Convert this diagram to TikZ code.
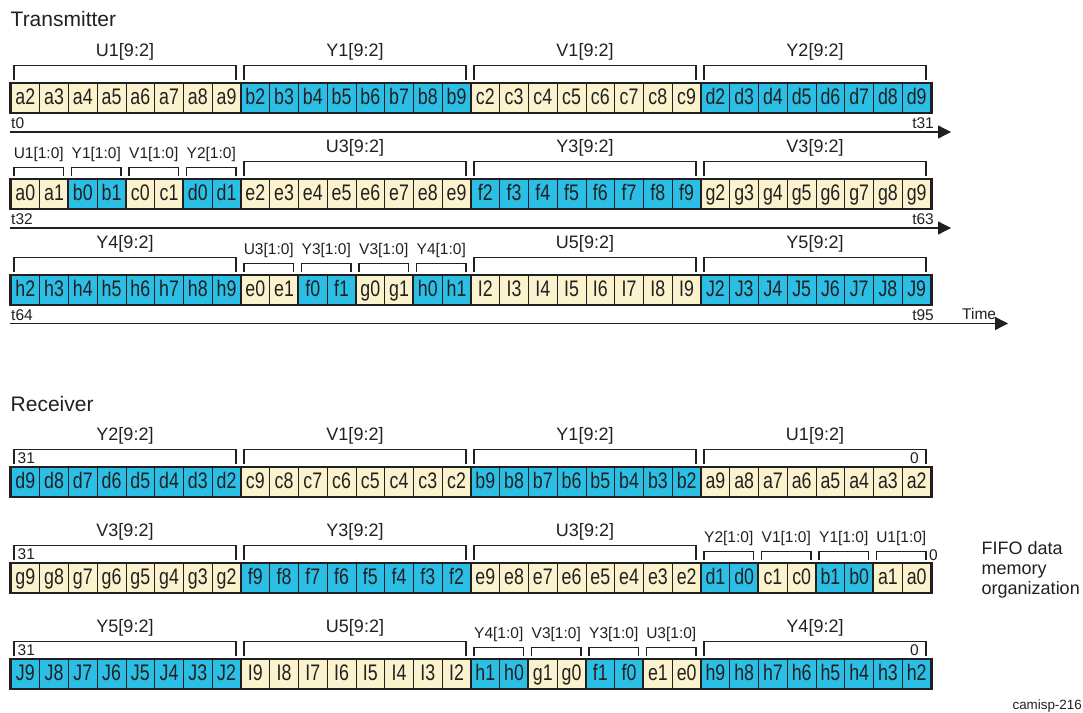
\documentclass[tikz,border=0pt]{standalone}
\usepackage{fontspec}
\setmainfont{Liberation Sans}
\newfontfamily\cellfont[FakeStretch=0.79]{Liberation Sans}
\usetikzlibrary{arrows.meta}
\definecolor{cr}{HTML}{FAF3CD}
\definecolor{bl}{HTML}{2BBFE6}
\definecolor{ink}{HTML}{231F20}
\tikzset{
 cell/.style={draw=ink, line width=0.8pt, minimum width=28.75pt, minimum height=29pt, inner sep=0pt,
   text height=16.5pt, text depth=3pt, font=\cellfont\fontsize{22.5}{22.5}\selectfont, text=ink},
 outer/.style={draw=ink, line width=2.6pt},
 gbound/.style={draw=ink, line width=1.8pt},
 brk/.style={draw=ink, line width=1.1pt},
 biglab/.style={anchor=base, font=\fontsize{18}{18}\selectfont, text=ink, inner sep=0pt},
 smlab/.style={anchor=base, font=\fontsize{15.5}{15.5}\selectfont, text=ink, inner sep=0pt},
 tlab/.style={font=\fontsize{15.5}{15.5}\selectfont, text=ink, inner sep=0pt},
 ttl/.style={anchor=base west, font=\fontsize{21}{21}\selectfont, text=ink, inner sep=0pt},
 tarrow/.style={draw=ink, line width=1.3pt, -{Triangle[length=13pt,width=13pt]}},
}
% #1 row, #2 centre y, #3 first column, #4 letter, #5 digits, #6 colour
\newcommand\grp[6]{%
 \foreach [count=\k from 0] \d in {#5} {
   \pgfmathtruncatemacro\cc{#3+\k}
   \node[cell, fill=#6] (#1-\cc) at ({11+(\cc-0.5)*28.75}, #2) {#4\d};
 }}
% #1 first col, #2 last col, #3 cell top, #4 node name, #5 label
\newcommand\bigbrk[5]{%
 \draw[brk] ({11+(#1-1)*28.75+3},{#3-4}) -- ({11+(#1-1)*28.75+3},{#3-18})
   -- ({11+#2*28.75-5},{#3-18}) -- ({11+#2*28.75-5},{#3-4});
 \node[biglab] (#4) at ({(11+(#1-1)*28.75+3 + 11+#2*28.75-5)/2},{#3-27}) {#5};}
\newcommand\smbrk[5]{%
 \draw[brk] ({11+(#1-1)*28.75+3},{#3-4}) -- ({11+(#1-1)*28.75+3},{#3-12})
   -- ({11+#2*28.75-5},{#3-12}) -- ({11+#2*28.75-5},{#3-4});
 \node[smlab] (#4) at ({(11+(#1-1)*28.75+3 + 11+#2*28.75-5)/2},{#3-21}) {#5};}
\newcommand\rowbox[2]{%
 \draw[outer] (#1-1.north west) rectangle (#1-32.south east);
 \foreach \b in {#2} \draw[gbound] (#1-\b.north west) -- (#1-\b.south west);}
\begin{document}
\begin{tikzpicture}[x=1pt,y=-1pt]
\useasboundingbox (0,0) rectangle (1083,712);
% ---------------- Transmitter
\node[ttl] (tx) at (10.5,26) {Transmitter};
% row 1
\grp{r1}{98}{1}{a}{2,...,9}{cr}
\grp{r1}{98}{9}{b}{2,...,9}{bl}
\grp{r1}{98}{17}{c}{2,...,9}{cr}
\grp{r1}{98}{25}{d}{2,...,9}{bl}
\rowbox{r1}{9,17,25}
\bigbrk{1}{8}{83.5}{l11}{U1[9:2]}
\bigbrk{9}{16}{83.5}{l12}{Y1[9:2]}
\bigbrk{17}{24}{83.5}{l13}{V1[9:2]}
\bigbrk{25}{32}{83.5}{l14}{Y2[9:2]}
\node[tlab, anchor=base west] (t0) at (11,128.5) {t0};
\node[tlab, anchor=base east] (t31) at (934,128.5) {t31};
\coordinate (a1s) at (10,132);
\coordinate (a1e) at (951,132);
\draw[tarrow] (a1s) -- (a1e);
% row 2
\grp{r2}{194}{1}{a}{0,1}{cr}
\grp{r2}{194}{3}{b}{0,1}{bl}
\grp{r2}{194}{5}{c}{0,1}{cr}
\grp{r2}{194}{7}{d}{0,1}{bl}
\grp{r2}{194}{9}{e}{2,...,9}{cr}
\grp{r2}{194}{17}{f}{2,...,9}{bl}
\grp{r2}{194}{25}{g}{2,...,9}{cr}
\rowbox{r2}{3,5,7,9,17,25}
\smbrk{1}{2}{179.5}{l21}{U1[1:0]}
\smbrk{3}{4}{179.5}{l22}{Y1[1:0]}
\smbrk{5}{6}{179.5}{l23}{V1[1:0]}
\smbrk{7}{8}{179.5}{l24}{Y2[1:0]}
\bigbrk{9}{16}{179.5}{l25}{U3[9:2]}
\bigbrk{17}{24}{179.5}{l26}{Y3[9:2]}
\bigbrk{25}{32}{179.5}{l27}{V3[9:2]}
\node[tlab, anchor=base west] (t32) at (11,224.5) {t32};
\node[tlab, anchor=base east] (t63) at (934,224.5) {t63};
\coordinate (a2s) at (10,228);
\coordinate (a2e) at (951,228);
\draw[tarrow] (a2s) -- (a2e);
% row 3
\grp{r3}{290}{1}{h}{2,...,9}{bl}
\grp{r3}{290}{9}{e}{0,1}{cr}
\grp{r3}{290}{11}{f}{0,1}{bl}
\grp{r3}{290}{13}{g}{0,1}{cr}
\grp{r3}{290}{15}{h}{0,1}{bl}
\grp{r3}{290}{17}{I}{2,...,9}{cr}
\grp{r3}{290}{25}{J}{2,...,9}{bl}
\rowbox{r3}{9,11,13,15,17,25}
\bigbrk{1}{8}{275.5}{l31}{Y4[9:2]}
\smbrk{9}{10}{275.5}{l32}{U3[1:0]}
\smbrk{11}{12}{275.5}{l33}{Y3[1:0]}
\smbrk{13}{14}{275.5}{l34}{V3[1:0]}
\smbrk{15}{16}{275.5}{l35}{Y4[1:0]}
\bigbrk{17}{24}{275.5}{l36}{U5[9:2]}
\bigbrk{25}{32}{275.5}{l37}{Y5[9:2]}
\node[tlab, anchor=base west] (t64) at (11,320) {t64};
\node[tlab, anchor=base east] (t95) at (934,320) {t95};
\node[tlab, anchor=base west] (time) at (962,319) {Time};
\coordinate (a3s) at (10,323.5);
\coordinate (a3e) at (1008,323.5);
\draw[tarrow] (a3s) -- (a3e);
% ---------------- Receiver
\node[ttl] (rx) at (10.5,411.5) {Receiver};
% row 4
\grp{r4}{482}{1}{d}{9,8,...,2}{bl}
\grp{r4}{482}{9}{c}{9,8,...,2}{cr}
\grp{r4}{482}{17}{b}{9,8,...,2}{bl}
\grp{r4}{482}{25}{a}{9,8,...,2}{cr}
\rowbox{r4}{9,17,25}
\bigbrk{1}{8}{467.5}{l41}{Y2[9:2]}
\bigbrk{9}{16}{467.5}{l42}{V1[9:2]}
\bigbrk{17}{24}{467.5}{l43}{Y1[9:2]}
\bigbrk{25}{32}{467.5}{l44}{U1[9:2]}
\node[tlab, anchor=base west] (m4a) at (17.5,463.5) {31};
\node[tlab, anchor=base east] (m4b) at (919,463.5) {0};
% row 5
\grp{r5}{578}{1}{g}{9,8,...,2}{cr}
\grp{r5}{578}{9}{f}{9,8,...,2}{bl}
\grp{r5}{578}{17}{e}{9,8,...,2}{cr}
\grp{r5}{578}{25}{d}{1,0}{bl}
\grp{r5}{578}{27}{c}{1,0}{cr}
\grp{r5}{578}{29}{b}{1,0}{bl}
\grp{r5}{578}{31}{a}{1,0}{cr}
\rowbox{r5}{9,17,25,27,29,31}
\bigbrk{1}{8}{563.5}{l51}{V3[9:2]}
\bigbrk{9}{16}{563.5}{l52}{Y3[9:2]}
\bigbrk{17}{24}{563.5}{l53}{U3[9:2]}
\smbrk{25}{26}{563.5}{l54}{Y2[1:0]}
\smbrk{27}{28}{563.5}{l55}{V1[1:0]}
\smbrk{29}{30}{563.5}{l56}{Y1[1:0]}
\smbrk{31}{32}{563.5}{l57}{U1[1:0]}
\node[tlab, anchor=base west] (m5a) at (17.5,559.5) {31};
\node[tlab, anchor=base west] (m5b) at (929,560) {0};
% row 6
\grp{r6}{674}{1}{J}{9,8,...,2}{bl}
\grp{r6}{674}{9}{I}{9,8,...,2}{cr}
\grp{r6}{674}{17}{h}{1,0}{bl}
\grp{r6}{674}{19}{g}{1,0}{cr}
\grp{r6}{674}{21}{f}{1,0}{bl}
\grp{r6}{674}{23}{e}{1,0}{cr}
\grp{r6}{674}{25}{h}{9,8,...,2}{bl}
\rowbox{r6}{9,17,19,21,23,25}
\bigbrk{1}{8}{659.5}{l61}{Y5[9:2]}
\bigbrk{9}{16}{659.5}{l62}{U5[9:2]}
\smbrk{17}{18}{659.5}{l63}{Y4[1:0]}
\smbrk{19}{20}{659.5}{l64}{V3[1:0]}
\smbrk{21}{22}{659.5}{l65}{Y3[1:0]}
\smbrk{23}{24}{659.5}{l66}{U3[1:0]}
\bigbrk{25}{32}{659.5}{l67}{Y4[9:2]}
\node[tlab, anchor=base west] (m6a) at (17.5,655.5) {31};
\node[tlab, anchor=base east] (m6b) at (919,655.5) {0};
% side notes
\node[anchor=north west, align=left, inner sep=0pt, text=ink, font=\fontsize{18}{20}\selectfont] (fifo) at (981.5,541.5) {FIFO data\\memory\\organization};
\node[anchor=base east, inner sep=0pt, text=ink, font=\fontsize{13.4}{13.4}\selectfont] (fig) at (1082,709) {camisp-216};
\end{tikzpicture}
\end{document}
